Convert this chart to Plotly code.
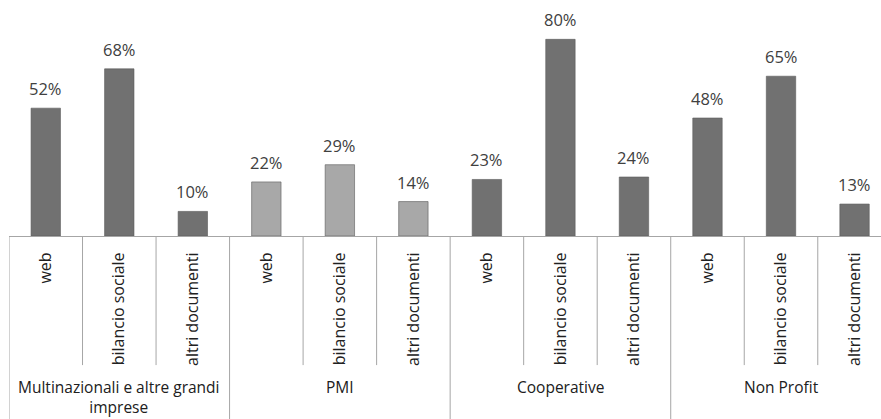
import plotly.graph_objects as go

groups = ["Multinazionali e altre grandi<br>imprese", "PMI", "Cooperative", "Non Profit"]
subcats = ["web", "bilancio sociale", "altri documenti"]
values = [52, 68, 10, 22, 29, 14, 23, 80, 24, 48, 65, 13]
group_colors = ["#717171", "#a8a8a8", "#717171", "#717171"]

n_sub = len(subcats)
xs = list(range(len(values)))
ticktext = [subcats[i % n_sub] for i in xs]
colors = [group_colors[i // n_sub] for i in xs]
labels = [f"{v}%" for v in values]

FONT = "Open Sans"
TXT = "#404040"
LINE = "#a6a6a6"

fig = go.Figure()
fig.add_trace(go.Bar(
    x=xs, y=values,
    marker=dict(color=colors, line=dict(color="#5a5a5a", width=0.6)),
    width=0.4, showlegend=False, hoverinfo="skip",
))

annotations = []
for x, v, t in zip(xs, values, labels):
    annotations.append(dict(x=x, y=v, xref="x", yref="y", text=t, showarrow=False,
                            yanchor="bottom", yshift=6,
                            font=dict(family=FONT, size=16.5, color=TXT)))

shapes = []
for i in range(len(values) + 1):
    b = i - 0.5
    y0 = -0.78 if i % n_sub == 0 else -0.547
    shapes.append(dict(type="line", xref="x", yref="paper", x0=b, x1=b, y0=0, y1=y0,
                       line=dict(color=LINE, width=1)))

for g, name in enumerate(groups):
    cx = g * n_sub + (n_sub - 1) / 2
    annotations.append(dict(x=cx, y=-0.585, xref="x", yref="paper", text=name,
                            showarrow=False, yanchor="top", align="center",
                            font=dict(family=FONT, size=15.5, color="#202020")))

fig.update_layout(
    width=881, height=419,
    margin=dict(l=9, r=0, t=0, b=183),
    paper_bgcolor="white", plot_bgcolor="white",
    annotations=annotations,
    shapes=shapes,
    xaxis=dict(range=[-0.5, 11.36], tickmode="array", tickvals=xs, ticktext=ticktext,
               tickangle=-90, showline=True, linecolor=LINE, linewidth=1,
               showgrid=False, zeroline=False, ticks="", ticklabelstandoff=9,
               tickfont=dict(family=FONT, size=16, color="#202020")),
    yaxis=dict(range=[0, 96], visible=False, showgrid=False, zeroline=False),
)

fig.write_html("out.html")
